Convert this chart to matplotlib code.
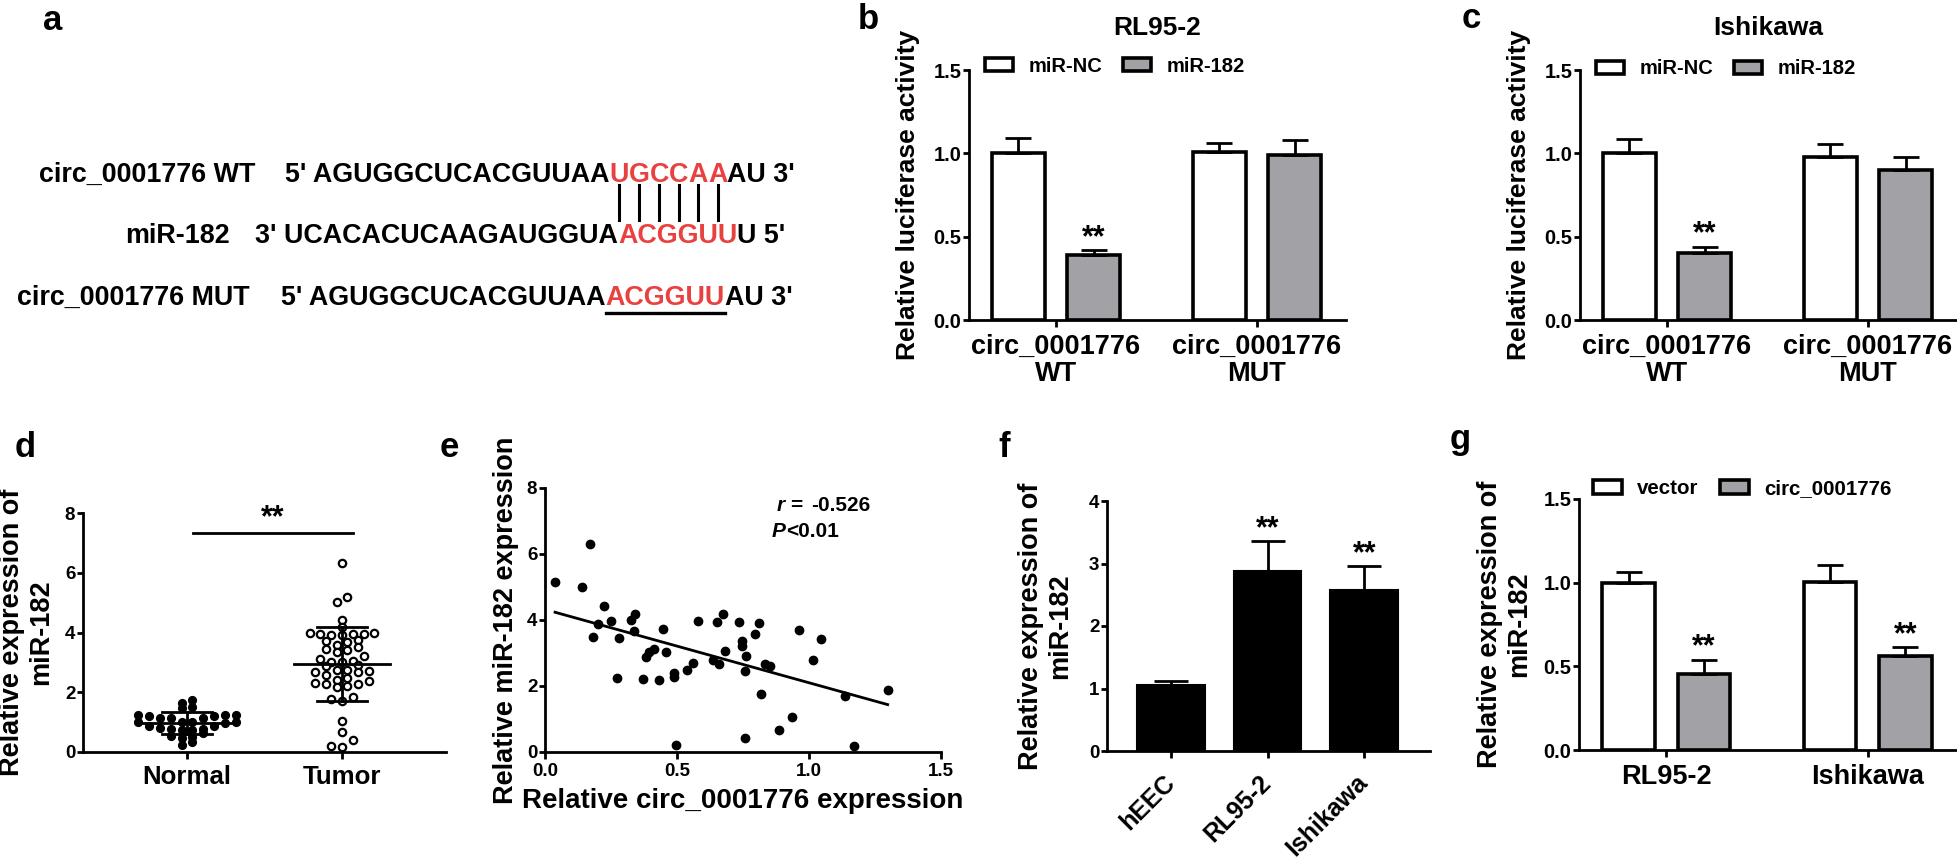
import numpy as np
import matplotlib
matplotlib.use('Agg')
import matplotlib.pyplot as plt
from matplotlib.patches import Patch
from matplotlib.lines import Line2D

# ---------------- data ----------------
# panel b (RL95-2 luciferase)
lucif_groups = ['circ_0001776\nWT', 'circ_0001776\nMUT']
b_nc = [1.00, 1.01]
b_nc_err = [0.09, 0.05]
b_mir = [0.39, 0.99]
b_mir_err = [0.03, 0.09]
# panel c (Ishikawa luciferase)
c_nc = [1.00, 0.98]
c_nc_err = [0.085, 0.075]
c_mir = [0.40, 0.90]
c_mir_err = [0.04, 0.08]
# panel d
d_groups = ['Normal', 'Tumor']
normal_vals = [1.75, 1.64, 1.51, 1.47, 1.25, 1.25, 1.22, 1.25, 1.14, 1.14, 1.14, 1.19,
               0.99, 0.97, 0.99, 1.00, 0.88, 0.86, 0.80, 0.75, 0.77, 0.75, 0.77, 0.52,
               0.47, 0.50, 0.64, 0.25, 0.32, 1.02]
tumor_vals = [6.31, 5.01, 5.18, 4.43, 4.20, 3.98, 3.96, 3.95, 3.90, 3.93, 3.95, 3.98,
              3.68, 3.70, 3.74, 3.57, 3.50, 3.46, 3.41, 3.35, 3.20, 3.11, 3.04, 3.00,
              3.00, 2.90, 2.87, 2.76, 2.76, 2.70, 2.67, 2.67, 2.59, 2.42, 2.48, 2.31,
              2.26, 2.28, 2.37, 2.18, 2.20, 1.84, 1.77, 1.70, 1.03, 0.66, 0.41, 0.17, 0.19]
# panel e
circ_expr = [0.038, 0.139, 0.171, 0.224, 0.200, 0.183, 0.250, 0.272, 0.281, 0.326, 0.341,
             0.336, 0.373, 0.383, 0.394, 0.414, 0.430, 0.446, 0.459, 0.490, 0.490, 0.497,
             0.537, 0.562, 0.579, 0.635, 0.651, 0.660, 0.674, 0.682, 0.733, 0.746, 0.748,
             0.756, 0.761, 0.758, 0.796, 0.809, 0.819, 0.832, 0.853, 0.885, 0.935, 0.963,
             1.014, 1.046, 1.135, 1.169, 1.298]
mir_expr = [5.16, 5.01, 6.30, 4.43, 3.88, 3.49, 3.98, 2.25, 3.44, 4.00, 4.17,
            3.68, 2.21, 2.87, 3.04, 3.12, 2.18, 3.73, 3.02, 2.38, 2.26, 0.20,
            2.50, 2.71, 3.97, 2.78, 3.94, 2.68, 4.18, 3.06, 3.95, 3.36, 3.21,
            2.45, 2.91, 0.43, 3.59, 3.92, 1.77, 2.68, 2.60, 0.68, 1.06, 3.70,
            2.78, 3.42, 1.69, 0.17, 1.87]
r_value = '-0.526'
p_value = '<0.01'
# panel f
f_cats = ['hEEC', 'RL95-2', 'Ishikawa']
f_vals = [1.05, 2.88, 2.58]
f_err = [0.065, 0.48, 0.38]
# panel g
g_cats = ['RL95-2', 'Ishikawa']
g_vec = [1.00, 1.005]
g_vec_err = [0.065, 0.10]
g_circ = [0.455, 0.56]
g_circ_err = [0.085, 0.055]

# ---------------- setup ----------------
W, H, DPI = 1958, 861, 100
plt.rcParams['font.family'] = ['Liberation Sans', 'DejaVu Sans']
plt.rcParams['font.weight'] = 'bold'
plt.rcParams['axes.labelweight'] = 'bold'
GRAY = '#a2a2a6'
RED = '#e8413f'

fig = plt.figure(figsize=(W / DPI, H / DPI), dpi=DPI)
renderer = fig.canvas.get_renderer()


def fx(x):
    return x / W


def fy(y):
    return 1 - y / H


def add_ax(x0, y0, x1, y1):
    return fig.add_axes([fx(x0), fy(y1), (x1 - x0) / W, (y1 - y0) / H])


def style(ax, tick_fs):
    for s in ['top', 'right']:
        ax.spines[s].set_visible(False)
    for s in ['left', 'bottom']:
        ax.spines[s].set_linewidth(2.0)
    ax.tick_params(axis='both', width=2.0, labelsize=tick_fs)
    ax.tick_params(axis='y', length=4.5, pad=1)
    ax.tick_params(axis='x', length=5)
    ax.patch.set_alpha(0)


def ptext(x, y, s, **kw):
    kw.setdefault('fontweight', 'bold')
    return fig.text(fx(x), fy(y), s, **kw)


def ylabel_at(ax, text, x_px, fs, x0_px, w_px):
    ax.set_ylabel(text, fontsize=fs, fontweight='bold', va='center', ha='center',
                  linespacing=1.15)
    ax.yaxis.set_label_coords((x_px - x0_px) / w_px, 0.5)


# ---------------- panel letters ----------------
for lab, x, y in [('a', 43, 30), ('b', 858, 29), ('c', 1462, 28), ('d', 15, 457),
                  ('e', 440, 457), ('f', 998, 457), ('g', 1450, 449)]:
    ptext(x, y, lab, fontsize=25, ha='left', va='baseline')

# ---------------- panel a ----------------
FS_A = 19.4


def chain(x, y, pieces):
    spans = []
    for txt, col in pieces:
        t = ptext(x, y, txt, fontsize=FS_A, color=col, ha='left', va='baseline')
        bb = t.get_window_extent(renderer)
        spans.append((bb.x0, bb.x1))
        x = bb.x1
    return spans

ptext(255, 182, 'circ_0001776 WT', fontsize=FS_A, ha='right', va='baseline')
row1 = chain(285, 182, [("5' AGUGGCUCACGUUAA", 'black')] +
             [(ch, RED) for ch in 'UGCCAA'] + [("AU 3'", 'black')])
ptext(230, 243, 'miR-182', fontsize=FS_A, ha='right', va='baseline')
chain(255, 243, [("3' UCACACUCAAGAUGGUA", 'black'), ('ACGGUU', RED), ("U 5'", 'black')])
ptext(250, 305, 'circ_0001776 MUT', fontsize=FS_A, ha='right', va='baseline')
row3 = chain(281, 305, [("5' AGUGGCUCACGUUAA", 'black'), ('ACGGUU', RED), ("AU 3'", 'black')])

for x0, x1 in row1[1:7]:
    xc = (x0 + x1) / 2
    fig.add_artist(Line2D([fx(xc), fx(xc)], [fy(185), fy(220)], color='black', lw=2.2))
ux0, ux1 = row3[1]
fig.add_artist(Line2D([fx(ux0), fx(ux1)], [fy(313), fy(313)], color='black', lw=2.4))

# ---------------- grouped bar helper ----------------
OFF, BW = 0.187, 0.26


def grouped(ax, v1, e1, v2, e2, c1, c2, stars_idx):
    x = np.arange(len(v1))
    for xs, v, e, c in [(x - OFF, v1, e1, c1), (x + OFF, v2, e2, c2)]:
        ax.errorbar(xs, v, yerr=[np.zeros(len(v)), e], fmt='none', ecolor='black',
                    elinewidth=2.0, capsize=9.5, capthick=2.0, zorder=3)
        ax.bar(xs, v, BW, color=c, edgecolor='black', linewidth=2.6, zorder=2)
    for i in stars_idx:
        ax.annotate('**', (x[i] + OFF, v2[i] + e2[i]), xytext=(0, 3), textcoords='offset points',
                    ha='center', va='baseline', fontsize=22, fontweight='bold')


def legend_at(x_px, y_px, labels, fs):
    handles = [Patch(facecolor='white', edgecolor='black', linewidth=2.6),
               Patch(facecolor=GRAY, edgecolor='black', linewidth=2.6)]
    fig.legend(handles, labels, loc='center left', bbox_to_anchor=(fx(x_px), fy(y_px)),
               ncol=2, frameon=False, handlelength=1.4, handleheight=0.65,
               handletextpad=0.75, columnspacing=1.05, fontsize=fs,
               borderpad=0, borderaxespad=0, prop={'weight': 'bold', 'size': fs})


def lucif_panel(x0, title, nc, nce, mir, mire, legend_y):
    ax = add_ax(x0, 70, x0 + 377, 320)
    grouped(ax, nc, nce, mir, mire, 'white', GRAY, [0])
    ax.set_xlim(-0.433, 1.443)
    ax.set_ylim(0, 1.5)
    ax.set_yticks([0.0, 0.5, 1.0, 1.5])
    ax.set_yticklabels(['0.0', '0.5', '1.0', '1.5'])
    ax.set_xticks([0, 1])
    ax.set_xticklabels(lucif_groups, linespacing=1.05)
    style(ax, 14.5)
    ax.tick_params(axis='x', labelsize=19.5, pad=5)
    ylabel_at(ax, 'Relative luciferase activity', x0 - 61, 19, x0, 377)
    ptext(x0 + 188, 35, title, fontsize=19, ha='center', va='baseline')
    legend_at(x0 + 16, legend_y, ['miR-NC', 'miR-182'], 14.5)
    return ax

lucif_panel(969, 'RL95-2', b_nc, b_nc_err, b_mir, b_mir_err, 66)
lucif_panel(1580, 'Ishikawa', c_nc, c_nc_err, c_mir, c_mir_err, 69)

# ---------------- panel d ----------------
axd = add_ax(83, 513, 446, 752)
axd.set_xlim(-0.671, 1.671)
axd.set_ylim(0, 8)
fig.canvas.draw()


def row_swarm(vals, ax, d, bin_px):
    """GraphPad-like layout: points falling in the same horizontal band are
    spread side by side, centred on the category."""
    p0 = ax.transData.transform((0, 0))
    p1 = ax.transData.transform((1, 1))
    sx, sy = p1[0] - p0[0], p1[1] - p0[1]
    vals = np.asarray(vals, float)
    bins = np.round(vals * sy / bin_px).astype(int)
    offs = np.zeros(len(vals))
    for bb in np.unique(bins):
        idx = np.where(bins == bb)[0]
        idx = idx[np.argsort(vals[idx])]
        n = len(idx)
        slots = (np.arange(n) - (n - 1) / 2) * d
        order = np.argsort(np.abs(slots), kind='stable')
        offs[idx] = slots[order] / sx
    return offs

n_off = row_swarm(normal_vals, axd, 10.8, 8.5)
t_off = row_swarm(tumor_vals, axd, 10.8, 8.5)
axd.plot(0 + n_off, normal_vals, 'o', color='black', ms=5.6, zorder=2, clip_on=False)
axd.plot(1 + t_off, tumor_vals, 'o', mfc='white', mec='black', mew=1.6, ms=5.3,
         zorder=2, clip_on=False)
for xc, vals in [(0, normal_vals), (1, tumor_vals)]:
    m, s = np.mean(vals), np.std(vals, ddof=1)
    axd.plot([xc - 0.31, xc + 0.31], [m, m], color='black', lw=2.0, zorder=3)
    axd.plot([xc, xc], [m - s, m + s], color='black', lw=2.0, zorder=3)
    for yy in (m - s, m + s):
        axd.plot([xc - 0.16, xc + 0.16], [yy, yy], color='black', lw=2.0, zorder=3)
axd.plot([0.04, 1.07], [7.33, 7.33], color='black', lw=2.0, clip_on=False)
axd.text(0.555, 7.33, '**', ha='center', va='bottom', fontsize=22, fontweight='bold')
axd.set_yticks([0, 2, 4, 6, 8])
axd.set_xticks([0, 1])
axd.set_xticklabels(d_groups)
style(axd, 13.5)
axd.tick_params(axis='x', labelsize=18.6, pad=4)
ylabel_at(axd, 'Relative expression of\nmiR-182', 27, 19.5, 83, 363)

# ---------------- panel e ----------------
axe = add_ax(545, 488, 941, 752)
axe.set_xlim(0, 1.5)
axe.set_ylim(0, 8)
axe.plot(circ_expr, mir_expr, 'o', color='black', ms=6.0, clip_on=False, zorder=3)
k, b0 = np.polyfit(circ_expr, mir_expr, 1)
xs = np.array([min(circ_expr), max(circ_expr)])
axe.plot(xs, k * xs + b0, color='black', lw=2.0, zorder=2)
axe.set_xticks([0.0, 0.5, 1.0, 1.5])
axe.set_xticklabels(['0.0', '0.5', '1.0', '1.5'])
axe.set_yticks([0, 2, 4, 6, 8])
style(axe, 13.5)
axe.tick_params(axis='x', pad=3)
ylabel_at(axe, 'Relative miR-182 expression', 506, 19.5, 545, 396)
axe.set_xlabel('Relative circ_0001776 expression', fontsize=20, fontweight='bold', labelpad=6)
ptext(777, 511, 'r', fontsize=15, style='italic', ha='left', va='baseline')
ptext(790, 511, '=', fontsize=15, ha='left', va='baseline')
ptext(811, 511, r_value, fontsize=15, ha='left', va='baseline')
ptext(772, 537, 'P', fontsize=15, style='italic', ha='left', va='baseline')
ptext(786, 537, p_value, fontsize=15, ha='left', va='baseline')

# ---------------- panel f ----------------
axf = add_ax(1107, 501, 1430, 751)
xf = np.arange(len(f_cats))
axf.errorbar(xf, f_vals, yerr=[np.zeros(len(f_vals)), f_err], fmt='none', ecolor='black',
             elinewidth=2.0, capsize=12, capthick=2.0, zorder=1)
axf.bar(xf, f_vals, 0.70, color='black', edgecolor='black', linewidth=1.5, zorder=2)
for i in (1, 2):
    axf.annotate('**', (xf[i], f_vals[i] + f_err[i]), xytext=(0, 3), textcoords='offset points',
                 ha='center', va='baseline', fontsize=22, fontweight='bold')
axf.set_xlim(-0.66, 2.68)
axf.set_ylim(0, 4)
axf.set_yticks([0, 1, 2, 3, 4])
axf.set_xticks(xf)
axf.set_xticklabels(f_cats, rotation=45, ha='right', va='center', rotation_mode='anchor')
style(axf, 13.5)
axf.tick_params(axis='x', labelsize=18, pad=15)
ylabel_at(axf, 'Relative expression of\nmiR-182', 1046, 19.5, 1107, 323)

# ---------------- panel g ----------------
axg = add_ax(1579, 499, 1957, 750)
grouped(axg, g_vec, g_vec_err, g_circ, g_circ_err, 'white', GRAY, [0, 1])
axg.set_xlim(-0.433, 1.443)
axg.set_ylim(0, 1.5)
axg.set_yticks([0.0, 0.5, 1.0, 1.5])
axg.set_yticklabels(['0.0', '0.5', '1.0', '1.5'])
axg.set_xticks([0, 1])
axg.set_xticklabels(g_cats)
style(axg, 14.5)
axg.tick_params(axis='x', labelsize=19.5, pad=5)
ylabel_at(axg, 'Relative expression of\nmiR-182', 1505, 19.5, 1579, 378)
legend_at(1593, 489, ['vector', 'circ_0001776'], 14.8)

fig.savefig('out.png', dpi=DPI)
